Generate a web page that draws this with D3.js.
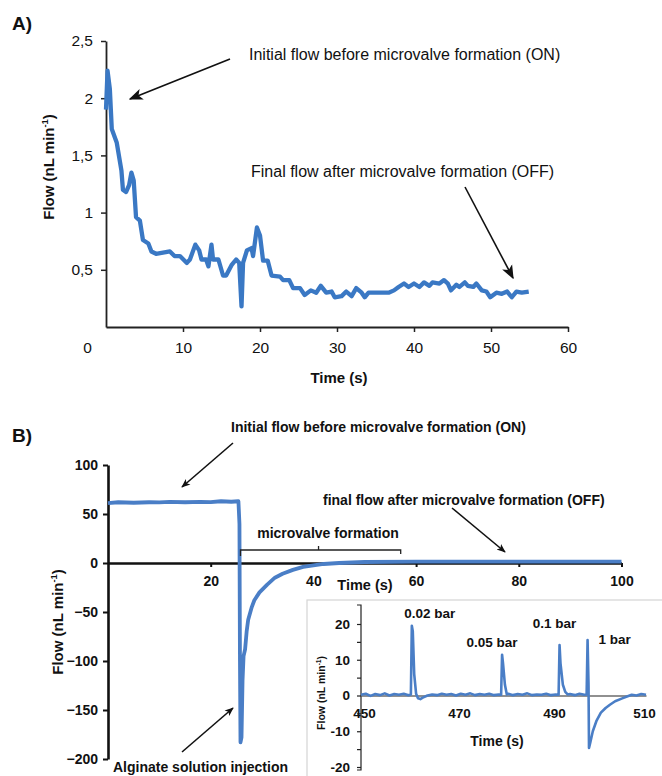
<!DOCTYPE html>
<html>
<head>
<meta charset="utf-8">
<script src="https://cdn.jsdelivr.net/npm/d3@7/dist/d3.min.js"></script>
<style>
  body { margin: 0; background: #fff; }
  svg { display: block; }
  text { font-family: "Liberation Sans", Arial, sans-serif; fill: #111; }
</style>
</head>
<body>
<svg id="chart" width="662" height="776"></svg>
<script>
// ---- panel A: flow through the channel while the microvalve forms
const timeA = [0, 0.2, 0.5, 0.75, 1.4, 2.0, 2.2, 2.6, 3.0, 3.3, 3.6, 3.9, 4.4, 4.8, 5.5, 5.9, 6.5,
  7.4, 8.3, 8.9, 9.6, 10.5, 10.9, 11.6, 12.1, 12.4, 13.0, 13.3, 13.7, 13.9, 14.6, 15.2, 15.6,
  16.3, 16.9, 17.3, 17.6, 17.8, 18.3, 18.9, 19.1, 19.6, 20.0, 20.4, 21.0, 21.5, 22.6, 23.0,
  23.8, 24.3, 25.2, 25.8, 26.6, 27.3, 27.9, 28.6, 29.3, 29.7, 30.6, 31.2, 31.9, 32.5, 33.2,
  33.6, 34.1, 36.7, 37.4, 38.0, 38.7, 39.3, 40.0, 40.7, 41.3, 42.0, 42.4, 43.3, 43.9, 44.4,
  44.8, 45.5, 45.9, 46.6, 47.0, 47.7, 48.1, 48.8, 49.4, 49.9, 50.7, 51.4, 52.1, 52.7, 53.3,
  54.0, 54.9];
const flowA = [1.90, 2.24, 2.08, 1.73, 1.61, 1.37, 1.20, 1.18, 1.24, 1.35, 1.28, 0.96, 0.93, 0.76,
  0.73, 0.66, 0.64, 0.65, 0.66, 0.62, 0.62, 0.56, 0.59, 0.72, 0.67, 0.59, 0.59, 0.53, 0.72,
  0.59, 0.59, 0.45, 0.45, 0.54, 0.59, 0.56, 0.18, 0.56, 0.67, 0.69, 0.62, 0.87, 0.80, 0.58,
  0.58, 0.45, 0.44, 0.41, 0.41, 0.34, 0.34, 0.28, 0.32, 0.30, 0.36, 0.30, 0.31, 0.26, 0.27,
  0.31, 0.27, 0.34, 0.30, 0.26, 0.30, 0.30, 0.32, 0.35, 0.38, 0.35, 0.38, 0.35, 0.39, 0.36,
  0.39, 0.38, 0.41, 0.38, 0.32, 0.37, 0.35, 0.39, 0.36, 0.35, 0.38, 0.32, 0.31, 0.26, 0.30,
  0.29, 0.31, 0.26, 0.31, 0.30, 0.31];
const ticksAx = [0, 10, 20, 30, 40, 50, 60];
const ticksAy = [0.5, 1, 1.5, 2, 2.5];
const tickLabelsAy = ["0,5", "1", "1,5", "2", "2,5"];

// ---- panel B: alginate injection run
const timeB = [0, 2, 5, 8, 10, 12, 15, 18, 20, 22, 24, 25.4, 25.6, 25.7, 25.8, 26.0, 26.2, 26.4,
  26.7, 27.0, 27.3, 28.0, 28.5, 29.5, 31, 32.5, 34, 36, 38, 40, 42, 45, 50, 60, 70, 80, 90, 100];
const flowB = [61, 62, 61.5, 62, 61.8, 62.3, 62, 62.4, 62.1, 63, 62.5, 63, 40, -100, -183, -178,
  -120, -95, -88, -70, -58, -45, -38, -30, -22, -15, -11, -7, -4, -2.5, -1, 0, 1, 1.5, 1.5,
  1.5, 1.5, 1.5];
const ticksBx = [20, 40, 60, 80, 100];
const ticksBy = [100, 50, 0, -50, -100, -150, -200];

// ---- inset: response to pressure pulses
const timeInset = [450, 451, 452, 453, 454, 455, 456, 457, 458, 459, 460, 460.5, 460.7, 460.9,
  461.2, 461.6, 462, 462.5, 463, 464, 465, 466, 467, 468, 469, 470, 471, 472, 473, 474, 475,
  476, 477, 478, 479, 479.5, 479.7, 479.9, 480.3, 480.7, 481, 482, 483, 484, 485, 486, 487,
  488, 489, 490, 491, 491.6, 491.8, 492, 492.5, 493, 493.5, 494, 495, 496, 497, 497.5, 497.7,
  497.9, 498.0, 498.3, 498.8, 499.6, 500.5, 501.5, 502.4, 503.5, 505, 506, 507, 508, 509, 510];
const flowInset = [0.2, 0.5, -0.1, 0.4, 0.1, 0.6, 0, 0.4, 0.2, 0.5, 0.1, 0.3, 19.5, 18, 6, 0.5,
  -0.8, -1, -0.6, 0, 0.3, 0.1, 0.5, 0.2, 0.4, 0, 0.5, 0.2, 0.6, 0.1, 0.4, 0.2, 0.5, 0.1, 0.3,
  0.2, 11.4, 9, 3, 0.3, 0.5, 0.1, 0.4, 0.2, 0.6, 0.1, 0.3, 0.2, 0.5, 0.1, 0.3, 0.2, 14.1, 9, 3,
  1, 0.3, 0.4, 0.1, 0.5, 0.2, 0.3, 15.5, 3, -14.7, -13, -10, -7, -4.8, -3.5, -2.6, -1.6, -0.8,
  -0.3, 0.2, 0, 0.4, 0.2];
const ticksInsetX = [450, 470, 490, 510];
const ticksInsetY = [20, 10, 0, -10, -20];
const pulseLabels = ["0.02 bar", "0.05 bar", "0.1 bar", "1 bar"];
const pulsePeaks = [[460.7, 19.5], [479.7, 11.4], [491.8, 14.1], [497.7, 15.5]];

const svg = d3.select("#chart");
const blueA = "#3a78c4", blueB = "#4a7ec6";

const defs = svg.append("defs");
defs.append("marker")
    .attr("id", "head")
    .attr("viewBox", "0 0 10 10")
    .attr("refX", 9).attr("refY", 5)
    .attr("markerWidth", 9).attr("markerHeight", 9)
    .attr("markerUnits", "userSpaceOnUse")
    .attr("orient", "auto")
  .append("path")
    .attr("d", "M0,1 L10,5 L0,9 L2.5,5 Z")
    .attr("fill", "#111");
defs.append("marker")
    .attr("id", "headBig")
    .attr("viewBox", "0 0 10 10")
    .attr("refX", 9).attr("refY", 5)
    .attr("markerWidth", 14).attr("markerHeight", 14)
    .attr("markerUnits", "userSpaceOnUse")
    .attr("orient", "auto")
  .append("path")
    .attr("d", "M0,1 L10,5 L0,9 L2.5,5 Z")
    .attr("fill", "#111");

function arrow(g, x1, y1, x2, y2, marker) {
  g.append("line")
      .attr("x1", x1).attr("y1", y1).attr("x2", x2).attr("y2", y2)
      .attr("stroke", "#111").attr("stroke-width", 1.6)
      .attr("marker-end", "url(#" + marker + ")");
}

function flowLabel(g, x, y, size) {
  var t = g.append("text")
      .attr("transform", "translate(" + x + "," + y + ") rotate(-90)")
      .attr("text-anchor", "middle")
      .attr("font-weight", "bold")
      .attr("font-size", size);
  t.append("tspan").text("Flow (nL min");
  t.append("tspan").attr("font-size", size * 0.62).attr("dy", -size * 0.4).text("-1");
  t.append("tspan").attr("dy", size * 0.4).text(")");
}

// =========== panel A ===========
const gA = svg.append("g");
const xA = d3.scaleLinear().domain([0, 60]).range([106, 568]);
const yA = d3.scaleLinear().domain([0, 2.5]).range([327, 41]);

gA.append("text").attr("x", 12).attr("y", 30)
    .attr("font-family", "Open Sans").attr("font-weight", "bold").attr("font-size", 19)
    .text("A)");

const axAx = gA.append("g")
    .attr("transform", "translate(0," + yA(0) + ")")
    .call(d3.axisBottom(xA).tickValues(ticksAx).tickSize(5).tickPadding(10).tickSizeOuter(0));
axAx.selectAll("text").attr("font-size", 15.5)
    .attr("dx", d => d === 0 ? -19 : 0);
axAx.selectAll(".tick").filter(d => d === 0).select("line").remove();

const axAy = gA.append("g")
    .attr("transform", "translate(" + xA(0) + ",0)")
    .call(d3.axisLeft(yA).tickValues(ticksAy).tickSize(5).tickPadding(8).tickSizeOuter(0)
        .tickFormat((d, i) => tickLabelsAy[i]));
axAy.selectAll("text").attr("font-size", 15.5);
[axAx, axAy].forEach(a => {
  a.select(".domain").attr("stroke", "#222").attr("stroke-width", 1.8);
  a.selectAll(".tick line").attr("stroke", "#222").attr("stroke-width", 1.5);
  a.selectAll("text").attr("font-family", "Liberation Sans").attr("fill", "#222");
});

gA.append("path")
    .datum(d3.zip(timeA, flowA))
    .attr("fill", "none")
    .attr("stroke", blueA)
    .attr("stroke-width", 4.3)
    .attr("stroke-linejoin", "round")
    .attr("d", d3.line().x(d => xA(d[0])).y(d => yA(d[1])));

gA.append("text").attr("x", 339).attr("y", 383)
    .attr("text-anchor", "middle").attr("font-weight", "bold").attr("font-size", 15)
    .text("Time (s)");
flowLabel(gA, 54, 167, 15);

gA.append("text").attr("x", 249).attr("y", 60).attr("font-size", 16)
    .attr("fill", "#222").text("Initial flow before microvalve formation (ON)");
gA.append("text").attr("x", 251).attr("y", 177).attr("font-size", 16)
    .attr("fill", "#222").text("Final flow after microvalve formation (OFF)");
arrow(gA, 230, 59, 130, 99, "headBig");
arrow(gA, 465, 187, 513, 278, "headBig");

// =========== panel B ===========
const gB = svg.append("g");
const xB = d3.scaleLinear().domain([0, 100]).range([108, 621.5]);
const yB = d3.scaleLinear().domain([-200, 100]).range([759, 465]);

gB.append("text").attr("x", 12).attr("y", 442)
    .attr("font-family", "Open Sans").attr("font-weight", "bold").attr("font-size", 19)
    .text("B)");

const axBy = gB.append("g")
    .attr("transform", "translate(" + xB(0) + ",0)")
    .call(d3.axisLeft(yB).tickValues(ticksBy).tickSize(5).tickPadding(5).tickSizeOuter(0));
axBy.selectAll("text").attr("font-size", 14).attr("font-weight", "bold");

const axBx = gB.append("g")
    .attr("transform", "translate(0," + yB(0) + ")")
    .call(d3.axisBottom(xB).tickValues(ticksBx).tickSize(4).tickPadding(9).tickSizeOuter(0));
axBx.selectAll("text").attr("font-size", 14).attr("font-weight", "bold");
[axBx, axBy].forEach(a => {
  a.select(".domain").attr("stroke", "#111").attr("stroke-width", 2.6);
  a.selectAll(".tick line").attr("stroke", "#111").attr("stroke-width", 2);
  a.selectAll("text").attr("font-family", "Liberation Sans").attr("fill", "#222");
});

gB.append("path")
    .datum(d3.zip(timeB, flowB))
    .attr("fill", "none")
    .attr("stroke", blueB)
    .attr("stroke-width", 3.8)
    .attr("stroke-linejoin", "round")
    .attr("d", d3.line().x(d => xB(d[0])).y(d => yB(d[1])));

gB.append("text").attr("x", 365).attr("y", 590)
    .attr("text-anchor", "middle").attr("font-weight", "bold").attr("font-size", 14.5)
    .text("Time (s)");
flowLabel(gB, 63, 622, 15);

// bracket over the formation period
const brY = 550;
gB.append("path")
    .attr("d", "M" + xB(25.8) + "," + (brY + 6) + " V" + brY + " H" + xB(57) + " V" + (brY + 4)
        + " M" + xB(41) + "," + brY + " v-4")
    .attr("fill", "none").attr("stroke", "#222").attr("stroke-width", 1.3);
gB.append("text").attr("x", 328).attr("y", 538)
    .attr("text-anchor", "middle").attr("font-weight", "bold").attr("font-size", 14)
    .text("microvalve formation");

gB.append("text").attr("x", 231).attr("y", 432).attr("font-weight", "bold").attr("font-size", 14)
    .text("Initial flow before microvalve formation (ON)");
gB.append("text").attr("x", 323).attr("y", 505).attr("font-weight", "bold").attr("font-size", 14)
    .text("final flow after microvalve formation (OFF)");
gB.append("text").attr("x", 113).attr("y", 772).attr("font-weight", "bold").attr("font-size", 14)
    .text("Alginate solution injection");
arrow(gB, 233, 443, 182, 487, "head");
arrow(gB, 452, 508, 505, 552, "head");
arrow(gB, 182, 752, 233, 708, "head");

// =========== inset ===========
const gI = svg.append("g");
gI.append("rect")
    .attr("x", 307).attr("y", 600).attr("width", 360).attr("height", 190)
    .attr("fill", "#fff").attr("stroke", "#d4d4d4").attr("stroke-width", 1.2);

const xI = d3.scaleLinear().domain([450, 510]).range([361, 646]);
const yI = d3.scaleLinear().domain([-20, 20]).range([767, 624]);

const axIy = gI.append("g")
    .attr("transform", "translate(" + xI(450) + ",0)")
    .call(d3.axisLeft(yI).tickValues(d3.range(-20, 21, 5)).tickSize(4).tickPadding(7)
        .tickSizeOuter(0).tickFormat(d => ticksInsetY.includes(d) ? d : ""));
axIy.select(".domain").attr("d", "M-4," + (yI(20) - 19) + "H0V" + (yI(-20) + 3) + "H-4");
axIy.selectAll("text").attr("font-size", 13.5).attr("font-weight", "bold");

const axIx = gI.append("g")
    .attr("transform", "translate(0," + yI(0) + ")")
    .call(d3.axisBottom(xI).tickValues(ticksInsetX).tickSize(0).tickPadding(13).tickSizeOuter(0));
axIx.selectAll("text").attr("font-size", 13.5).attr("font-weight", "bold")
    .attr("dx", d => d === 510 ? -2 : 3);
[axIx, axIy].forEach(a => {
  a.select(".domain").attr("stroke", "#222").attr("stroke-width", 1.2).attr("fill", "none");
  a.selectAll(".tick line").attr("stroke", "#222").attr("stroke-width", 1.2);
  a.selectAll("text").attr("font-family", "Liberation Sans").attr("fill", "#222");
});

gI.append("path")
    .datum(d3.zip(timeInset, flowInset))
    .attr("fill", "none")
    .attr("stroke", blueB)
    .attr("stroke-width", 2.6)
    .attr("stroke-linejoin", "round")
    .attr("d", d3.line().x(d => xI(d[0])).y(d => yI(d[1])));

const labelOffsets = [[18, -8], [-10, -8], [-5, -17], [27, 4]];
gI.selectAll("text.pulse")
    .data(pulseLabels)
    .join("text")
    .attr("class", "pulse")
    .attr("x", (d, i) => xI(pulsePeaks[i][0]) + labelOffsets[i][0])
    .attr("y", (d, i) => yI(pulsePeaks[i][1]) + labelOffsets[i][1])
    .attr("text-anchor", "middle").attr("font-weight", "bold").attr("font-size", 13.5)
    .text(d => d);

gI.append("text").attr("x", 497).attr("y", 746)
    .attr("text-anchor", "middle").attr("font-weight", "bold").attr("font-size", 14)
    .text("Time (s)");
flowLabel(gI, 325, 693, 10.5);
</script>
</body>
</html>
